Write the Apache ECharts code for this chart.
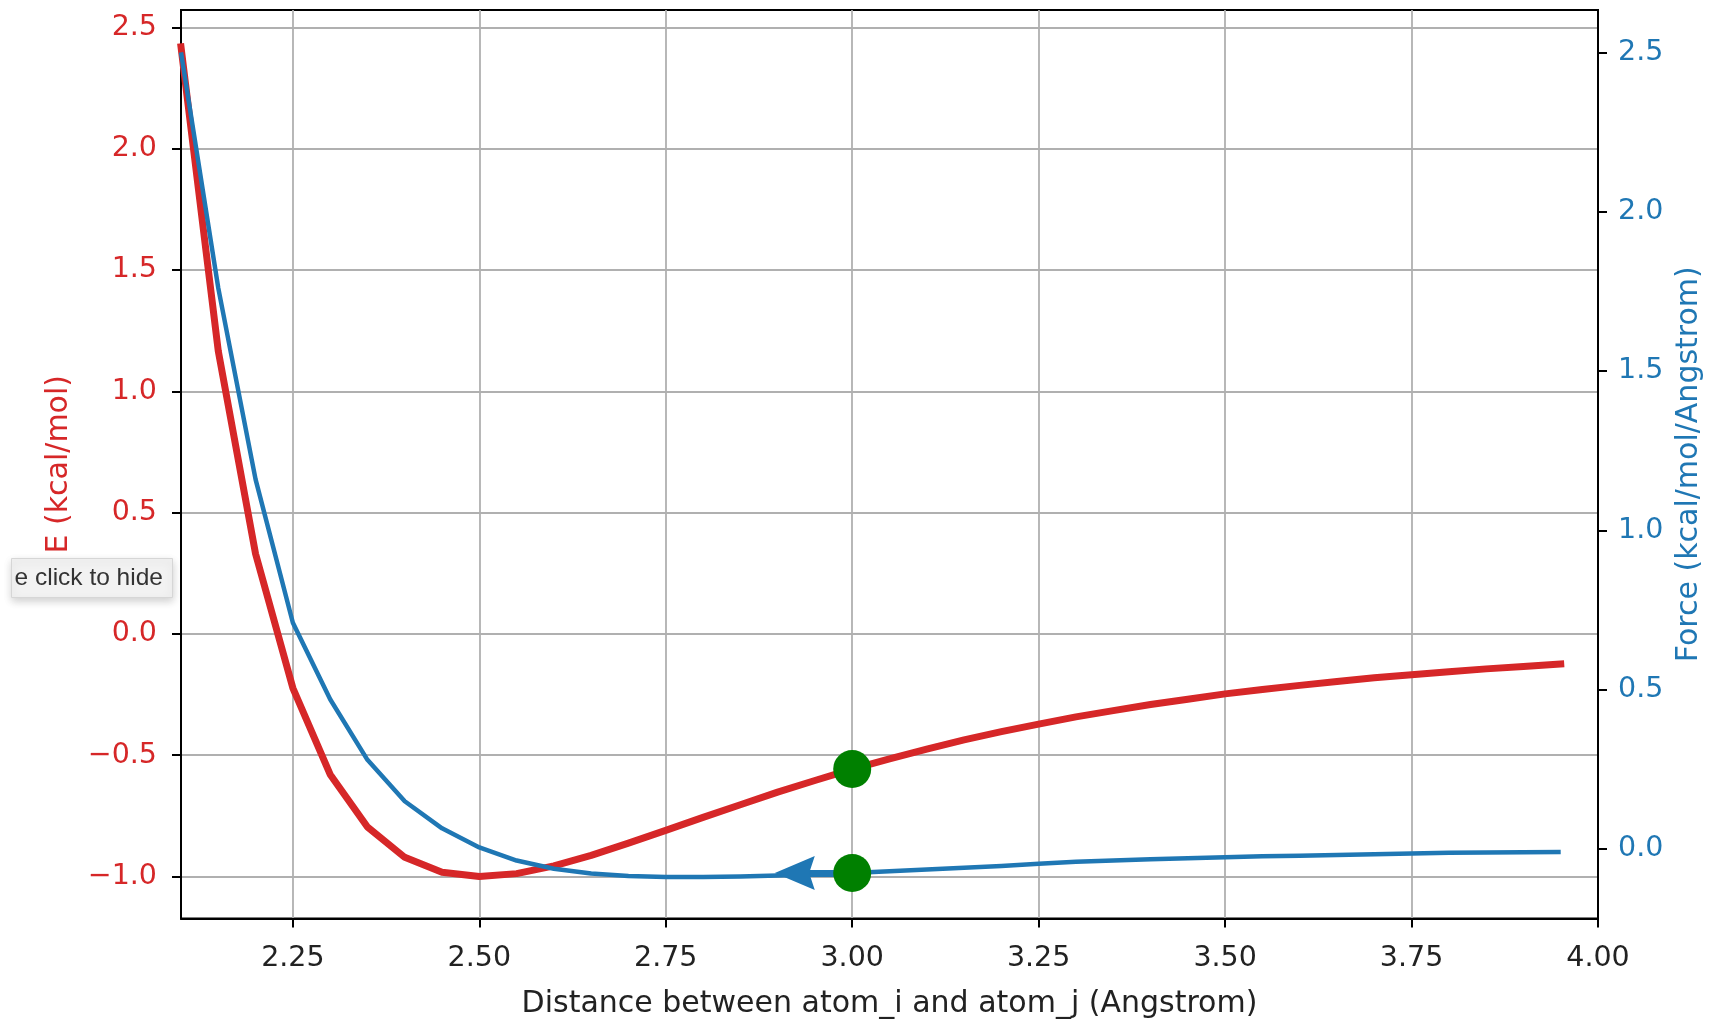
<!DOCTYPE html>
<html><head><meta charset="utf-8">
<script src="https://cdn.jsdelivr.net/npm/echarts@6/dist/echarts.min.js"></script>
<style>html,body{margin:0;padding:0;background:#fff}#c{width:1709px;height:1019px}</style>
</head><body><div id="c"></div>
<script>
// ---- data ----
const distance = [2.10, 2.15, 2.20, 2.25, 2.30, 2.35, 2.40, 2.45, 2.50, 2.55,
                  2.60, 2.65, 2.70, 2.75, 2.80, 2.85, 2.90, 2.95, 3.00, 3.05,
                  3.10, 3.15, 3.20, 3.25, 3.30, 3.35, 3.40, 3.45, 3.50, 3.55,
                  3.60, 3.65, 3.70, 3.75, 3.80, 3.85, 3.90, 3.95];
const energy = [2.42, 1.166, 0.33, -0.223, -0.579, -0.796, -0.921, -0.982, -1.000, -0.988,
                -0.956, -0.913, -0.862, -0.810, -0.756, -0.704, -0.652, -0.604, -0.557, -0.515,
                -0.475, -0.437, -0.403, -0.372, -0.342, -0.316, -0.291, -0.269, -0.247, -0.229,
                -0.212, -0.196, -0.181, -0.168, -0.156, -0.144, -0.134, -0.124];
const force = [2.50, 1.76, 1.16, 0.71, 0.47, 0.28, 0.15, 0.065, 0.005, -0.036,
               -0.062, -0.077, -0.085, -0.088, -0.088, -0.086, -0.083, -0.079, -0.075, -0.070,
               -0.064, -0.059, -0.053, -0.046, -0.040, -0.036, -0.032, -0.029, -0.026, -0.023,
               -0.021, -0.019, -0.016, -0.014, -0.012, -0.011, -0.010, -0.009];
const xTicks = [2.25, 2.50, 2.75, 3.00, 3.25, 3.50, 3.75, 4.00];
const energyTicks = [-1.0, -0.5, 0.0, 0.5, 1.0, 1.5, 2.0, 2.5];
const forceTicks = [0.0, 0.5, 1.0, 1.5, 2.0, 2.5];
const markerX = 3.0;
const markerEnergy = -0.557;
const markerForce = -0.075;
const arrowHeadX = 2.923;   // centre of the arrow head (tip near 2.90)

const RED = '#d62728', BLUE = '#1f77b4', GREEN = '#008000';
const FONT = 'DejaVu Sans';
const fmt1 = v => v.toFixed(1).replace('-', '\u2212');

const chart = echarts.init(document.getElementById('c'), null, {renderer: 'canvas'});
const tickStyle = {show: true, inside: false, length: 9, lineStyle: {color: '#000', width: 2}};

chart.setOption({
  animation: false,
  backgroundColor: '#fff',
  grid: {left: 181, right: 111, top: 10, bottom: 100.5, show: true, containLabel: false,
         outerBoundsMode: 'none',
         borderColor: '#000', borderWidth: 2, backgroundColor: 'transparent'},
  xAxis: {
    type: 'value', min: 2.1, max: 4.0,
    name: 'Distance between atom_i and atom_j (Angstrom)',
    nameLocation: 'middle', nameGap: 71,
    nameTextStyle: {fontFamily: FONT, fontSize: 30, color: '#222'},
    axisLine: {show: true, onZero: false, lineStyle: {color: '#000', width: 2}},
    axisTick: Object.assign({customValues: xTicks}, tickStyle),
    axisLabel: {customValues: xTicks, margin: 26, fontFamily: FONT, fontSize: 28.5, color: '#222',
                formatter: v => v.toFixed(2)},
    splitLine: {show: true, lineStyle: {color: '#b0b0b0', width: 1.8}}
  },
  yAxis: [{
    type: 'value', min: -1.173, max: 2.572, position: 'left',
    name: 'E (kcal/mol)', nameLocation: 'middle', nameGap: 107, nameRotate: 90,
    nameTextStyle: {fontFamily: FONT, fontSize: 30, color: RED},
    axisLine: {show: true, onZero: false, lineStyle: {color: '#000', width: 2}},
    axisTick: Object.assign({customValues: energyTicks}, tickStyle),
    axisLabel: {customValues: energyTicks, margin: 24, fontFamily: FONT, fontSize: 28.5, color: RED,
                formatter: fmt1},
    splitLine: {show: true, lineStyle: {color: '#b0b0b0', width: 1.8}}
  }, {
    type: 'value', min: -0.218, max: 2.633, position: 'right',
    name: 'Force (kcal/mol/Angstrom)', nameLocation: 'middle', nameGap: 74, nameRotate: 90,
    nameTextStyle: {fontFamily: FONT, fontSize: 30, color: BLUE},
    axisLine: {show: true, onZero: false, lineStyle: {color: '#000', width: 2}},
    axisTick: Object.assign({customValues: forceTicks}, tickStyle),
    axisLabel: {customValues: forceTicks, margin: 20, fontFamily: FONT, fontSize: 28.5, color: BLUE,
                formatter: fmt1},
    splitLine: {show: false}
  }],
  series: [{
    name: 'E', type: 'line', yAxisIndex: 0, z: 3, showSymbol: false, silent: true,
    data: distance.map((d, i) => [d, energy[i]]),
    lineStyle: {color: RED, width: 7, cap: 'square', join: 'round'}
  }, {
    name: 'Force', type: 'line', yAxisIndex: 1, z: 4, showSymbol: false, silent: true,
    data: distance.map((d, i) => [d, force[i]]),
    lineStyle: {color: BLUE, width: 4.5, join: 'round'},
    markLine: {
      silent: true, animation: false,
      symbol: ['none', 'none'],
      label: {show: false},
      lineStyle: {color: BLUE, width: 7, type: 'solid'},
      data: [[
        {coord: [markerX, markerForce], symbol: 'none'},
        {coord: [arrowHeadX, markerForce], symbol: 'path://M5,0 L10,10 L5,8.6 L0,10 Z', symbolSize: [34, 40]}
      ]]
    }
  }, {
    type: 'scatter', yAxisIndex: 0, z: 6, silent: true,
    data: [[markerX, markerEnergy]], symbolSize: 38, itemStyle: {color: GREEN, opacity: 1}
  }, {
    type: 'scatter', yAxisIndex: 1, z: 6, silent: true,
    data: [[markerX, markerForce]], symbolSize: 38, itemStyle: {color: GREEN, opacity: 1}
  }],
  graphic: [{
    type: 'group', left: 11, top: 558, z: 100,
    children: [{
      type: 'rect', shape: {x: 0, y: 0, width: 161, height: 39},
      style: {fill: '#f2f2f2', stroke: '#d6d6d6', lineWidth: 1,
              shadowBlur: 8, shadowColor: 'rgba(0,0,0,0.18)', shadowOffsetY: 3}
    }, {
      type: 'text', x: 3, y: 19.5,
      style: {text: 'e click to hide', fontFamily: 'Liberation Sans', fontSize: 24.5,
              fill: '#333', textVerticalAlign: 'middle'}
    }]
  }]
});
</script>
</body></html>
